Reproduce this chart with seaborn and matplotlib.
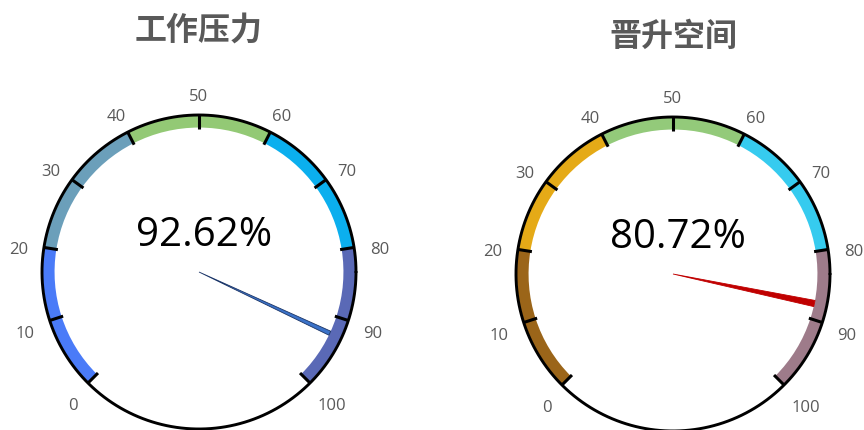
import numpy as np
import pandas as pd
import matplotlib
matplotlib.use('Agg')
import matplotlib.pyplot as plt
from matplotlib.patches import Wedge, Polygon
import seaborn as sns

# data
titles = ['工作压力', '晋升空间']
pct_text = ['92.62%', '80.72%']
needle_values = [92.62, 87.7]
tick_values = [0, 10, 20, 30, 40, 50, 60, 70, 80, 90, 100]
band_edges = [0, 20, 40, 60, 80, 100]
band_colors = [
    ['#4a7bf8', '#6b9fba', '#93c975', '#0bafee', '#5a69b6'],
    ['#9b6519', '#e5aa17', '#93ca7a', '#36cbef', '#9e7b8a'],
]
needle_colors = ['#3b72c8', '#c00000']
needle_edges = ['#1c3566', '#c00000']

sns.set_theme(style='white')
plt.rcParams['font.family'] = ['Open Sans', 'DejaVu Sans']

W, H = 864, 430
R = 157.0
centers = [(199, 272), (673, 274)]
title_y = [31, 37]

fig = plt.figure(figsize=(W / 100, H / 100), dpi=100)


def ang(v):
    # 0 -> 225 deg, 100 -> -45 deg
    return np.deg2rad(225 - v * 2.7)


for i, (cx, cy) in enumerate(centers):
    ax = fig.add_axes([(cx - 200) / W, 0, 400 / W, 1])
    ax.set_xlim(-200 / R, 200 / R)
    ax.set_ylim(-(H - cy) / R, cy / R)
    ax.axis('off')

    # coloured bands
    for j in range(len(band_edges) - 1):
        a0 = 225 - band_edges[j + 1] * 2.7
        a1 = 225 - band_edges[j] * 2.7
        ax.add_patch(Wedge((0, 0), 0.995, a0, a1, width=0.075,
                           facecolor=band_colors[i][j], edgecolor='none'))

    # outer circle
    t = np.linspace(0, 2 * np.pi, 400)
    circ = pd.DataFrame({'x': np.cos(t), 'y': np.sin(t)})
    sns.lineplot(data=circ, x='x', y='y', sort=False, color='black',
                 linewidth=2.1, ax=ax, estimator=None)
    ax.set_xlabel('')
    ax.set_ylabel('')

    # ticks and labels
    for v in tick_values:
        a = ang(v)
        ax.plot([0.91 * np.cos(a), 1.0 * np.cos(a)],
                [0.91 * np.sin(a), 1.0 * np.sin(a)],
                color='black', linewidth=2.2, solid_capstyle='butt')
        lab = str(v)
        w = 10 * len(lab)
        h = 16
        ax.annotate(lab, (1.1 * np.cos(a), 1.1 * np.sin(a)),
                    xytext=(w / 2 * np.cos(a), h / 2 * np.sin(a) - 6),
                    textcoords='offset pixels',
                    ha='center', va='center', fontsize=12, color='#595959')

    # needle
    a = ang(needle_values[i])
    tip = 0.92
    half = 0.014 if i == 0 else 0.02
    px, py = -np.sin(a), np.cos(a)
    pts = [(0.0, 0.0),
           (tip * np.cos(a) + half * px, tip * np.sin(a) + half * py),
           (tip * np.cos(a) - half * px, tip * np.sin(a) - half * py)]
    ax.add_patch(Polygon(pts, closed=True, facecolor=needle_colors[i],
                         edgecolor=needle_edges[i], linewidth=0.6))

    # value text
    ax.text(0.03, 0.23, pct_text[i], ha='center', va='center',
            fontsize=29, color='black')

    # title
    ax.text(0, (cy - title_y[i]) / R, titles[i], ha='center', va='center',
            fontsize=23, fontweight='bold', color='#595959',
            family=['Noto Sans CJK SC', 'DejaVu Sans'])

fig.savefig('out.png', dpi=100)
